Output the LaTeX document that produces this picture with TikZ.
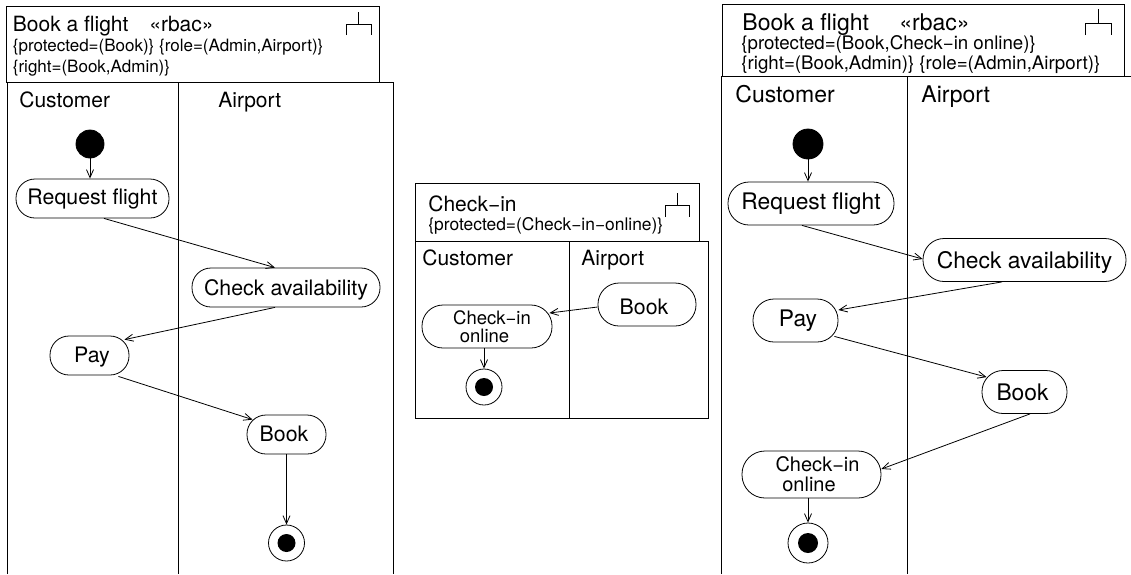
\documentclass[tikz,border=0pt]{standalone}
\usepackage{fontspec}
\usepackage{xcolor}
\setmainfont{TeX Gyre Heros}
\usetikzlibrary{arrows.meta}

\begin{document}
\begin{tikzpicture}[x=1pt, y=-1pt, >={Straight Barb[length=8pt,width=7pt]},
	line width=0.8pt,
	word/.style={anchor=base west, inner sep=0pt, font=\fontsize{21}{24}\selectfont},
	small/.style={anchor=base west, inner sep=0pt, font=\fontsize{17}{20}\selectfont},
	bigword/.style={anchor=base west, inner sep=0pt, font=\fontsize{23}{26}\selectfont},
	bigsmall/.style={anchor=base west, inner sep=0pt, font=\fontsize{18.7}{22}\selectfont},
	action/.style={draw, rectangle, rounded corners=19pt, inner sep=0pt, minimum height=39pt, align=center, font=\fontsize{21.3}{18}\selectfont},
	bigaction/.style={action, rounded corners=21pt, minimum height=43pt, font=\fontsize{22.8}{20}\selectfont},
	oneline/.style={text height=#1, text depth=0pt},
	startdot/.style={draw, circle, fill=black, inner sep=0pt},
	enddot/.style={draw, circle, inner sep=0pt, path picture={\fill[black] (path picture bounding box.center) circle (#1);}}]
	\useasboundingbox (0,0) rectangle (1131,574);
	\fill[white] (0,0) rectangle (1131,574);

	\draw (6,6) rectangle (379,82);
	\draw (7,574)--(7,82)--(393,82)--(393,574);
	\draw (178,82)--(178,574);
	\draw (358,12)--(358,24);
	\draw (346,35)--(346,24)--(371,24)--(371,35);
	\node[word] (titleA) at (12.5,31) {Book a flight};
	\node[word] (rbacA) at (149,31) {«rbac»};
	\node[small] (protA) at (12.5,51) {\{protected=(Book)\} \{role=(Admin,Airport)\}};
	\node[small] (rightA) at (12.5,72.5) {\{right=(Book,Admin)\}};
	\node[word] (custA) at (19,107) {Customer};
	\node[word] (airA) at (218,107) {Airport};

	\node[startdot, minimum size=28pt] (startA) at (90,144) {};
	\node[action, oneline=12pt, minimum width=153pt] (requestA) at (92.5,198.5) {Request flight};
	\node[action, oneline=15pt, minimum width=188pt] (checkA) at (286,287.5) {Check availability};
	\node[action, oneline=14pt, minimum width=79pt] (payA) at (89.5,355.5) {\hspace*{5pt}Pay};
	\node[action, oneline=14pt, minimum width=79pt] (bookA) at (286.5,434.5) {Book\hspace*{5pt}};
	\node[enddot=9pt, minimum size=36pt] (endA) at (286.5,543) {};

	\draw[->] (startA)--(requestA.north -| startA);
	\draw[->] ([xshift=11.5pt]requestA.south)--([xshift=-11pt]checkA.north);
	\draw[->] ([xshift=-11pt]checkA.south)--([shift={(-5,4)}]payA.north east);
	\draw[->] ([shift={(-11,1)}]payA.south east)--([shift={(6,5)}]bookA.north west);
	\draw[->] (bookA)--(endA);

	\draw (415,183) rectangle (699,241);
	\draw (415,241) rectangle (708,418);
	\draw (569,241)--(569,418);
	\draw (677,193)--(677,205);
	\draw (665,217)--(665,205)--(689,205)--(689,217);
	\node[word] (titleB) at (428,211) {Check−in};
	\node[small, font=\fontsize{17.4}{20}\selectfont] (protB) at (428,230) {\{protected=(Check−in−online)\}};
	\node[word] (custB) at (422,265) {Customer};
	\node[word] (airB) at (581,265) {Airport};

	\node[action, oneline=20pt, minimum width=98pt, minimum height=43pt, rounded corners=21pt] (bookB) at (647,304.5) {Book\hspace*{6pt}};
	\node[action, minimum width=130pt, minimum height=43pt, rounded corners=21pt, font=\fontsize{18.5}{18}\selectfont] (onlineB) at (487,326.5) {\hspace*{10pt}Check−in\\online\hspace*{5pt}};
	\node[enddot=9pt, minimum size=36pt] (endB) at (484,387) {};

	\draw[->] ([yshift=-2.5pt]bookB.west)--([yshift=13.5pt,xshift=-3pt]onlineB.east);
	\draw[->] (onlineB.south -| endB)--(endB);

	\draw (722,4) rectangle (1124,76);
	\draw (721,574)--(721,76)--(1131,76);
	\draw (907,76)--(907,574);
	\draw (1098,9)--(1098,23);
	\draw (1085,35)--(1085,23)--(1111,23)--(1111,35);
	\node[bigword] (titleC) at (742,30) {Book a flight};
	\node[bigword] (rbacC) at (899,30) {«rbac»};
	\node[bigsmall] (protC) at (741,49) {\{protected=(Book,Check−in online)\}};
	\node[bigsmall] (rightC) at (741,69) {\{right=(Book,Admin)\} \{role=(Admin,Airport)\}};
	\node[bigword] (custC) at (735,102) {Customer};
	\node[bigword] (airC) at (921,102) {Airport};

	\node[startdot, minimum size=30pt] (startC) at (808,144) {};
	\node[bigaction, oneline=12pt, minimum width=166pt] (requestC) at (811,203.5) {Request flight};
	\node[bigaction, oneline=16pt, minimum width=203pt] (checkC) at (1024.5,260) {Check availability};
	\node[bigaction, oneline=12pt, minimum width=85pt] (payC) at (795.5,320.5) {\hspace*{5pt}Pay};
	\node[bigaction, oneline=16pt, minimum width=85pt] (bookC) at (1024.5,392) {Book\hspace*{4pt}};
	\node[bigaction, minimum width=139pt, minimum height=47pt, rounded corners=23pt, font=\fontsize{20}{20}\selectfont] (onlineC) at (811.5,474.5) {\hspace*{12pt}Check−in\\online\hspace*{5pt}};
	\node[enddot=10pt, minimum size=40pt] (endC) at (808,543) {};

	\draw[->] (startC)--(requestC.north -| startC);
	\draw[->] ([xshift=-9pt]requestC.south)--([yshift=1pt]checkC.west);
	\draw[->] ([xshift=-22.5pt]checkC.south)--([yshift=10.5pt]payC.east);
	\draw[->] ([shift={(-4,-6)}]payC.south east)--([shift={(5,7)}]bookC.north west);
	\draw[->] ([xshift=5.5pt]bookC.south)--([yshift=5.5pt]onlineC.east);
	\draw[->] (onlineC.south -| endC)--(endC);

\end{tikzpicture}
\end{document}
